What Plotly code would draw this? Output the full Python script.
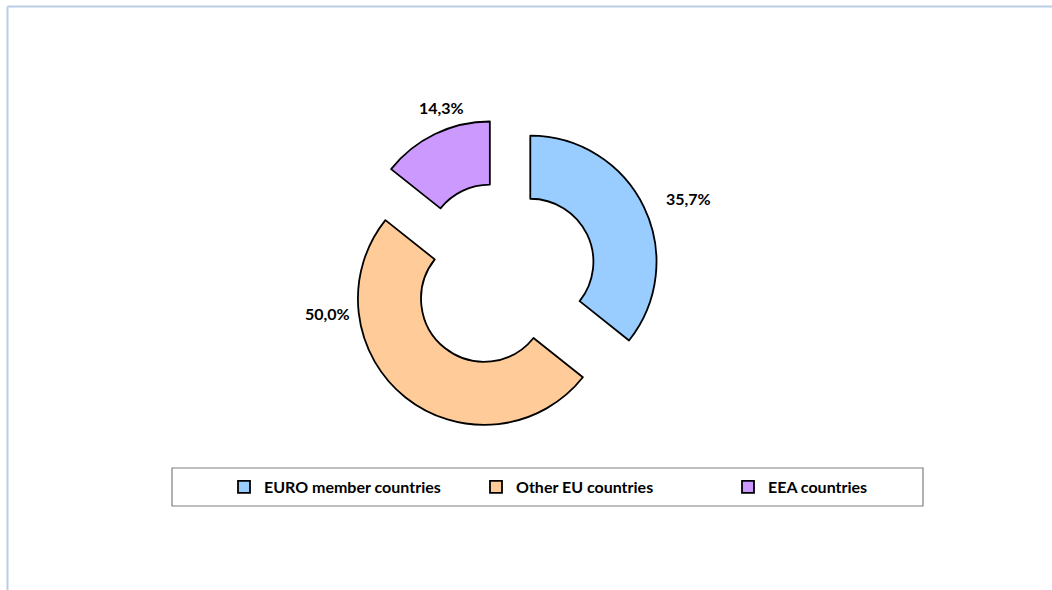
import plotly.graph_objects as go

# Share of countries by group
categories = ["EURO member countries", "Other EU countries", "EEA countries"]
shares = [35.7, 50.0, 14.3]
slice_colors = ["#99ccff", "#ffcc99", "#cc99ff"]

W, H = 1052, 590


def px_x(x):
    return x / W


def px_y(y):
    return 1 - y / H


def pct_label(v):
    return f"{v:.1f}".replace(".", ",") + "%"


fig = go.Figure(
    go.Pie(
        labels=categories,
        values=shares,
        marker=dict(colors=slice_colors, line=dict(color="#000000", width=1.8)),
        hole=0.5,
        pull=[0.24, 0.24, 0.24],
        sort=False,
        direction="clockwise",
        rotation=0,
        textinfo="none",
        hoverinfo="label+percent",
        domain=dict(x=[px_x(303), px_x(703)], y=[px_y(431.5), px_y(118.5)]),
    )
)

# Data labels placed beside each ring segment
label_pos = [(688, 198), (327, 313), (441, 107)]
annotations = [
    dict(
        x=px_x(x), y=px_y(y), xref="paper", yref="paper",
        text=pct_label(v), showarrow=False,
        font=dict(family="Lato", size=16, color="#000000", weight="bold"),
        xanchor="center", yanchor="middle",
    )
    for v, (x, y) in zip(shares, label_pos)
]

shapes = [
    # chart frame (top and left edges)
    dict(type="line", xref="paper", yref="paper",
         x0=px_x(7.5), x1=1, y0=px_y(6.5), y1=px_y(6.5),
         line=dict(color="#b9cde5", width=2)),
    dict(type="line", xref="paper", yref="paper",
         x0=px_x(7.5), x1=px_x(7.5), y0=px_y(6.5), y1=0,
         line=dict(color="#b9cde5", width=2)),
    # legend box
    dict(type="rect", xref="paper", yref="paper",
         x0=px_x(172), x1=px_x(923), y0=px_y(506), y1=px_y(468),
         line=dict(color="#7f7f7f", width=1.2), fillcolor="rgba(0,0,0,0)"),
]

fig.update_layout(
    width=W, height=H,
    margin=dict(l=0, r=0, t=0, b=0),
    paper_bgcolor="#ffffff",
    plot_bgcolor="#ffffff",
    showlegend=True,
    legend=dict(
        orientation="h",
        x=px_x(224), xanchor="left",
        y=px_y(487), yanchor="middle",
        entrywidth=207, entrywidthmode="pixels",
        font=dict(family="Lato", size=16, color="#000000", weight="bold"),
        bgcolor="rgba(0,0,0,0)", borderwidth=0,
        traceorder="normal",
    ),
    annotations=annotations,
    shapes=shapes,
)

fig.write_html("out.html")
